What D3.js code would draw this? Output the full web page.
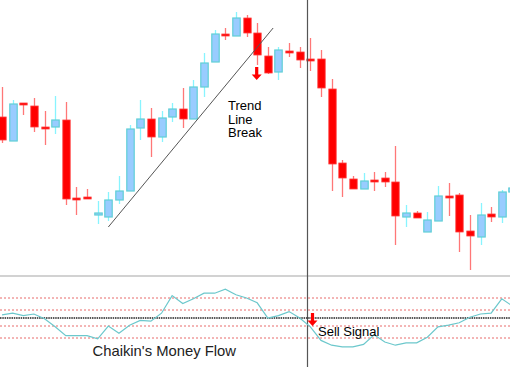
<!DOCTYPE html>
<html><head><meta charset="utf-8">
<script src="https://cdn.jsdelivr.net/npm/d3@7"></script>
<style>html,body{margin:0;padding:0;background:#fff;}svg{display:block;}</style>
</head><body>
<svg id="c" width="510" height="367"></svg>
<script>
// Price data (arbitrary price units), one entry per candle
const opens  = [163,139,177,174,153,153,160,82,83,65,63,80,89,152,161,143,163,171,161,193,218,246,244,262,247,224,208,229,228,221,221,191,117,101,91,100,102,98,63,67,48,59,84,85,49,43,66,63,88];
const highs  = [193,180,177,182,169,184,178,93,91,79,88,104,155,180,172,169,177,192,200,227,250,252,268,265,257,233,233,237,233,242,230,201,120,104,107,108,108,134,75,69,68,94,97,87,65,77,73,90,95];
const lows   = [137,139,165,148,135,146,75,65,83,56,59,76,89,140,123,138,158,152,161,183,218,240,244,243,215,206,200,223,212,209,183,89,83,91,91,89,93,35,53,62,48,59,64,28,10,35,58,57,88];
const closes = [140,176,175,153,153,160,81,82,83,67,80,89,151,161,143,162,171,161,193,217,246,246,262,247,225,207,230,229,220,221,192,116,102,91,99,100,98,64,67,62,60,84,84,48,44,65,63,88,92];
// Chaikin's Money Flow, one value per candle
const cmf = [0.04,0.06,0.03,0.05,-0.01,-0.11,-0.22,-0.22,-0.22,-0.26,-0.10,-0.19,-0.09,-0.03,-0.04,0.06,0.28,0.18,0.24,0.31,0.31,0.36,0.29,0.25,0.19,0.00,0.03,0.08,0.00,-0.11,-0.28,-0.34,-0.36,-0.36,-0.33,-0.21,-0.30,-0.34,-0.31,-0.31,-0.24,-0.11,-0.09,-0.06,0.01,0.05,0.06,0.24,0.15];
const cmfLevels = [0.25, 0.1, -0.1, -0.25];
const trendLine = [{i:10, p:53}, {i:25.5, p:252}];
const breakIndex = 24;
const signalIndex = 29;
const annotations = ["Trend", "Line", "Break"];
const cmfTitle = "Chaikin's Money Flow";
const signalLabel = "Sell Signal";

const W = 510, H = 367;
const svg = d3.select("#c");
const n = opens.length;
const x = d3.scaleLinear().domain([0, n - 1]).range([2, 501.8 + 10.6]);
const y = d3.scaleLinear().domain([0, 280]).range([280, 0]);
const yc = d3.scaleLinear().domain([-0.5, 0.5]).range([358, 278]);

const bw = 7.4;
const RED = "#ff0000", REDW = "#ff7777", BLUEF = "#99ccff", BLUES = "#5fcfd6", BLUEW = "#88f4ff";

// separator
svg.append("line").attr("x1",0).attr("x2",W).attr("y1",276).attr("y2",276)
  .attr("stroke","#d2d2d2").attr("stroke-width",2);

// candles
const g = svg.append("g");
d3.range(n).forEach(i => {
  const up = closes[i] > opens[i];
  const cx = Math.round(x(i)) + 0.5;
  g.append("line").attr("x1",cx).attr("x2",cx).attr("y1",y(highs[i])).attr("y2",y(lows[i]))
    .attr("stroke", up ? BLUEW : REDW).attr("stroke-width",1.3);
  const top = y(Math.max(opens[i], closes[i])), bot = y(Math.min(opens[i], closes[i]));
  const h = Math.max(bot - top, 2);
  if (up) {
    g.append("rect").attr("x",cx-bw/2).attr("y",top).attr("width",bw).attr("height",h)
      .attr("fill",BLUEF).attr("stroke",BLUES).attr("stroke-width",1.2);
  } else {
    g.append("rect").attr("x",cx-bw/2).attr("y",top).attr("width",bw).attr("height",h)
      .attr("fill",RED).attr("stroke","#ff4040").attr("stroke-width",0.8);
  }
});

// trend line
svg.append("line")
  .attr("x1",x(trendLine[0].i)).attr("y1",y(trendLine[0].p))
  .attr("x2",x(trendLine[1].i)).attr("y2",y(trendLine[1].p))
  .attr("stroke","#555").attr("stroke-width",1);

// vertical signal line
svg.append("line").attr("x1",307.5).attr("x2",307.5).attr("y1",0).attr("y2",H)
  .attr("stroke","#555").attr("stroke-width",1.2);

// arrow helper
function arrow(cx, top) {
  const p = d3.path();
  p.moveTo(cx-1.6, top); p.lineTo(cx+1.6, top); p.lineTo(cx+1.6, top+7.5);
  p.lineTo(cx+5, top+7.5); p.lineTo(cx, top+13); p.lineTo(cx-5, top+7.5);
  p.lineTo(cx-1.6, top+7.5); p.closePath();
  svg.append("path").attr("d", p.toString()).attr("fill", RED);
}
arrow(x(breakIndex) - 0.5, y(lows[breakIndex]) + 2);

// annotation text
const t = svg.append("text").attr("x",228).attr("y",110)
  .attr("font-family","Liberation Sans, Arial, sans-serif").attr("font-size",13).attr("fill","#000");
annotations.forEach((s,k) => t.append("tspan").attr("x",228).attr("y",110 + k*13.5).text(s));

// CMF levels
cmfLevels.forEach(v => {
  svg.append("line").attr("x1",0).attr("x2",W).attr("y1",yc(v)).attr("y2",yc(v))
    .attr("stroke","#e86a6a").attr("stroke-width",1).attr("stroke-dasharray","2,2");
});
svg.append("line").attr("x1",0).attr("x2",W).attr("y1",yc(0)).attr("y2",yc(0))
  .attr("stroke","#222").attr("stroke-width",1.6).attr("stroke-dasharray","1.5,0.8");

// CMF line
svg.append("path").datum(cmf)
  .attr("d", d3.line().x((d,i)=>x(i)).y(d=>yc(d)))
  .attr("fill","none").attr("stroke","#6cc8cc").attr("stroke-width",1.2);

arrow(312.5, 313);

svg.append("text").attr("x",318).attr("y",335.5)
  .attr("font-family","Liberation Sans, Arial, sans-serif").attr("font-size",13).attr("fill","#000").text(signalLabel);
svg.append("text").attr("x",92.5).attr("y",355.5)
  .attr("font-family","Liberation Sans, Arial, sans-serif").attr("font-size",14.8).attr("fill","#222").text(cmfTitle);
</script>
</body></html>
